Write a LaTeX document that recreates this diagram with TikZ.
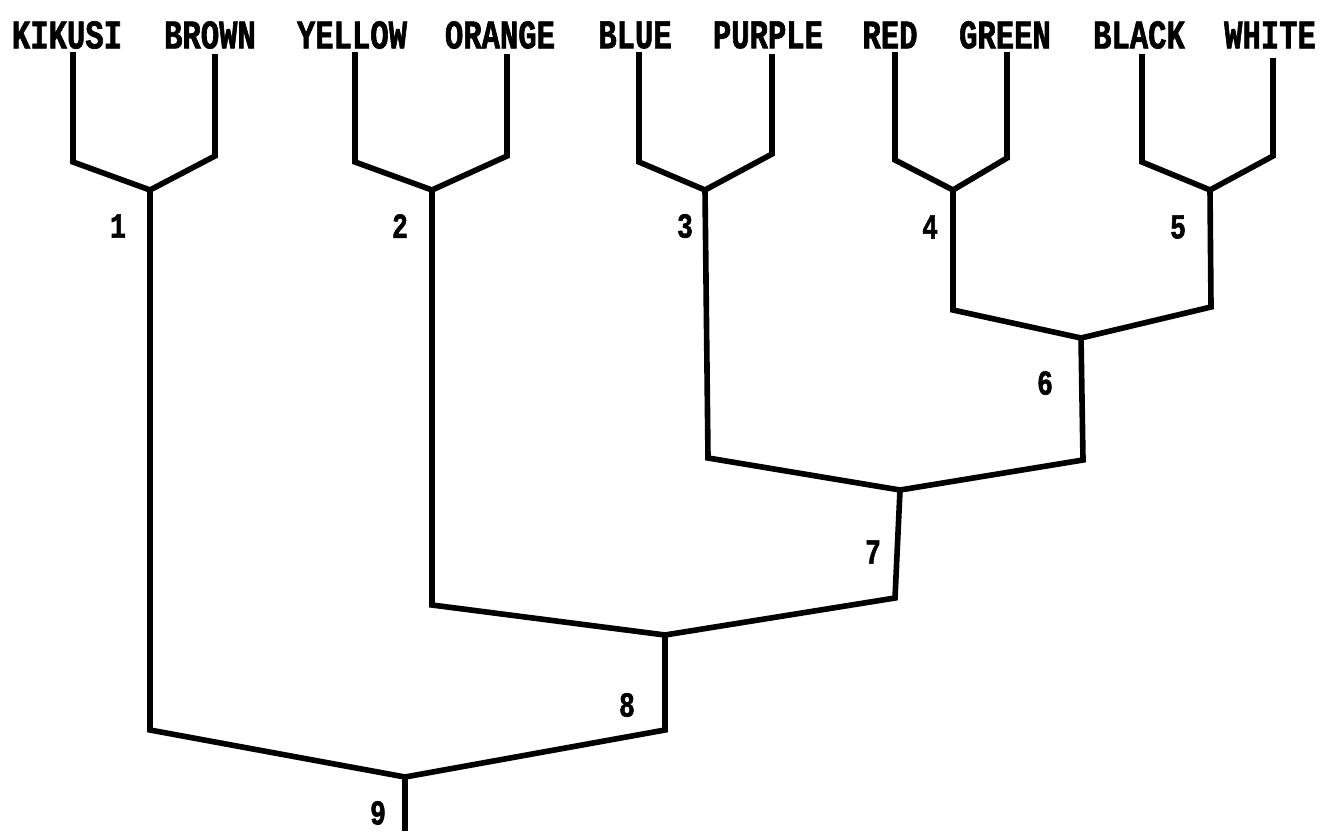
\documentclass[tikz,border=0pt]{standalone}
\usepackage{fontspec}
\newfontfamily\typefont[FakeStretch=0.75,FakeBold=1.5]{Liberation Mono}
\begin{document}
\begin{tikzpicture}[x=0.05cm,y=-0.05cm,
  leaf/.style={font=\typefont\bfseries\fontsize{58}{60}\selectfont, inner sep=0},
  num/.style={font=\typefont\bfseries\fontsize{50}{52}\selectfont, inner sep=0},
  branch/.style={line width=8pt, line join=miter}]
\useasboundingbox (0,0) rectangle (1325,831);

% leaf labels
\node[leaf] (kikusi) at (67,35)   {KIKUSI};
\node[leaf] (brown)  at (210,35)  {BROWN};
\node[leaf] (yellow) at (352,35)  {YELLOW};
\node[leaf] (orange) at (500,35)  {ORANGE};
\node[leaf] (blue)   at (635,35)  {BLUE};
\node[leaf] (purple) at (768,35)  {PURPLE};
\node[leaf] (red)    at (890,35)  {RED};
\node[leaf] (green)  at (1005,35) {GREEN};
\node[leaf] (black)  at (1139,35) {BLACK};
\node[leaf] (white)  at (1270,35) {WHITE};

% leaf line tops and lower corners
\coordinate (t1) at (73,52);   \coordinate (c1) at (73,162);
\coordinate (t2) at (215,54);  \coordinate (c2) at (215,156);
\coordinate (t3) at (355,52);  \coordinate (c3) at (355,162);
\coordinate (t4) at (507,54);  \coordinate (c4) at (507,156);
\coordinate (t5) at (639,52);  \coordinate (c5) at (639,162);
\coordinate (t6) at (772,54);  \coordinate (c6) at (772,154);
\coordinate (t7) at (895,52);  \coordinate (c7) at (895,160);
\coordinate (t8) at (1007,52); \coordinate (c8) at (1007,158);
\coordinate (t9) at (1142,54); \coordinate (c9) at (1142,162);
\coordinate (t10) at (1273,58);\coordinate (c10) at (1273,156);

% cluster junctions
\coordinate (j1) at (150,190);
\coordinate (j2) at (432,190);
\coordinate (j3) at (705,190);
\coordinate (j4) at (953,190);
\coordinate (j5) at (1210,190);
\coordinate (j6) at (1081,338);
\coordinate (j7) at (900,490);
\coordinate (j8) at (665,635);
\coordinate (j9) at (405,777);
\coordinate (root) at (405,831);

% first-level pairs
\draw[branch] (t1) -- (c1) -- (j1) -- (c2) -- (t2);
\draw[branch] (t3) -- (c3) -- (j2) -- (c4) -- (t4);
\draw[branch] (t5) -- (c5) -- (j3) -- (c6) -- (t6);
\draw[branch] (t7) -- (c7) -- (j4) -- (c8) -- (t8);
\draw[branch] (t9) -- (c9) -- (j5) -- (c10) -- (t10);

% higher-level joins
\draw[branch] (j4) -- (953,310) -- (j6) -- (1211,307) -- (j5);
\draw[branch] (j3) -- (708,458) -- (j7) -- (1083,460) -- (j6);
\draw[branch] (j2) -- (432,605) -- (j8) -- (895,598) -- (j7);
\draw[branch] (j1) -- (150,730) -- (j9) -- (665,730) -- (j8);
\draw[branch] (j9) -- (root);

% cluster numbers
\node[num] (n1) at (118,226)  {1};
\node[num] (n2) at (400,226)  {2};
\node[num] (n3) at (685,226)  {3};
\node[num] (n4) at (930,227)  {4};
\node[num] (n5) at (1178,227) {5};
\node[num] (n6) at (1045,383) {6};
\node[num] (n7) at (873,552)  {7};
\node[num] (n8) at (627,705)  {8};
\node[num] (n9) at (378,813)  {9};
\end{tikzpicture}
\end{document}
